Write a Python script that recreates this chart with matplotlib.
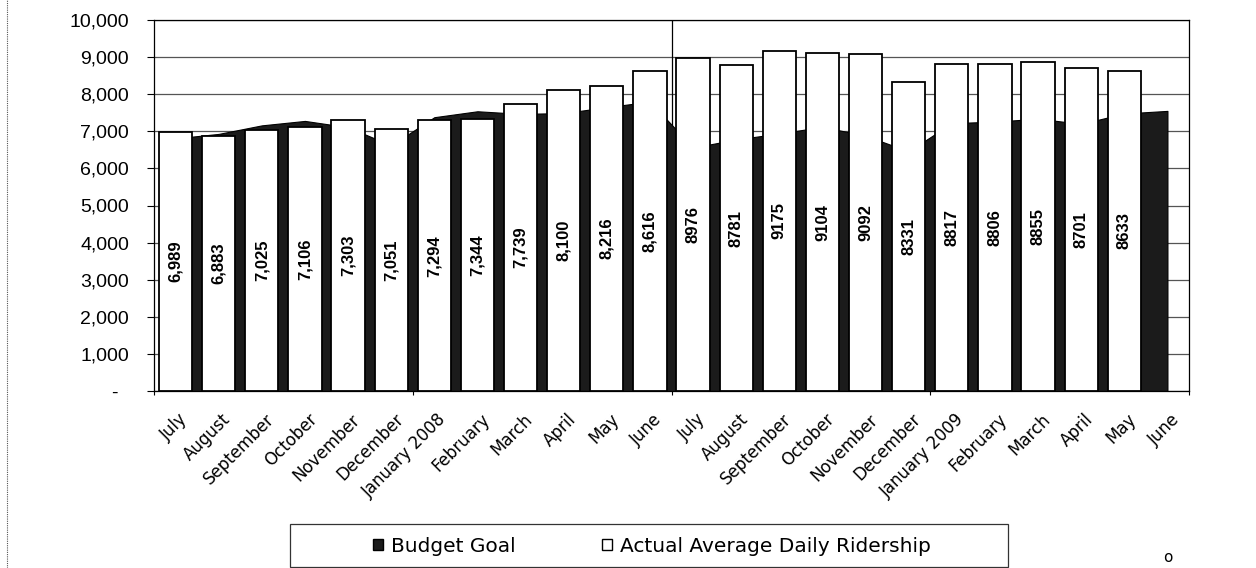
import matplotlib
matplotlib.use("Agg")
import matplotlib.pyplot as plt
import matplotlib.transforms as mtransforms
from matplotlib import font_manager
from matplotlib.patches import Patch, Rectangle
from matplotlib.ticker import FixedLocator, FuncFormatter

# Months of two fiscal years (July 2007 - June 2009)
months = ["July", "August", "September", "October", "November", "December",
          "January 2008", "February", "March", "April", "May", "June",
          "July", "August", "September", "October", "November", "December",
          "January 2009", "February", "March", "April", "May", "June"]

# Actual average daily ridership (June 2009 not yet reported)
actual = [6989, 6883, 7025, 7106, 7303, 7051, 7294, 7344, 7739, 8100, 8216, 8616,
          8976, 8781, 9175, 9104, 9092, 8331, 8817, 8806, 8855, 8701, 8633, None]

# Monthly budget goal
budget = [6810, 6930, 7160, 7280, 7110, 6620, 7380, 7540, 7470, 7490, 7650, 7800,
          6560, 6780, 6940, 7120, 6880, 6460, 7220, 7260, 7340, 7200, 7480, 7550]

y_ticks = list(range(0, 10001, 1000))

available = {f.name for f in font_manager.fontManager.ttflist}
narrow = "Liberation Sans Narrow" if "Liberation Sans Narrow" in available else "Liberation Sans"
label_size = 14 if narrow == "Liberation Sans Narrow" else 12

W, H = 1256, 568
fig = plt.figure(figsize=(W / 100, H / 100), dpi=100)
ax = fig.add_axes([154 / W, 1 - 391 / H, (1189 - 154) / W, (391 - 20) / H])

x = list(range(len(months)))

# Budget goal as a filled area behind the bars
ax.fill_between(x, 0, budget, color="#1b1b1b", linewidth=0.8, edgecolor="#000000", zorder=2)

# Actual ridership bars
for i, v in enumerate(actual):
    if v is None:
        continue
    ax.bar(i, v, width=0.77, facecolor="white", edgecolor="black", linewidth=1.3, zorder=3)
    txt = f"{v:,}" if i < 12 else f"{v}"
    ax.text(i, v / 2, txt, rotation=90, ha="center", va="center",
            fontsize=label_size, family=narrow, weight="bold", color="black", zorder=4)

# Fiscal-year divider
ax.axvline(11.5, color="black", linewidth=0.9, zorder=1)

ax.set_xlim(-0.5, len(months) - 0.5)
ax.set_ylim(0, 10000)

# Horizontal gridlines
ax.yaxis.set_major_locator(FixedLocator(y_ticks))
ax.grid(axis="y", color="#555555", linewidth=0.9, zorder=0)
ax.set_axisbelow(True)

def yfmt(v, pos):
    return "-  " if v == 0 else f"{int(v):,}"

ax.yaxis.set_major_formatter(FuncFormatter(yfmt))
ax.tick_params(axis="y", direction="out", length=5, width=0.8, pad=13,
               labelsize=14)
for lab in ax.get_yticklabels():
    lab.set_family("Liberation Sans")

# Category labels, tick marks every six months
ax.set_xticks(x)
ax.set_xticklabels(months)
ax.tick_params(axis="x", which="major", length=0, pad=14, labelsize=12)
ax.set_xticks([i - 0.5 for i in range(0, len(months) + 1, 6)], minor=True)
ax.tick_params(axis="x", which="minor", direction="out", length=3, width=0.8)
shift = mtransforms.ScaledTranslation(3 / 100, 0, fig.dpi_scale_trans)
for lab in ax.get_xticklabels():
    lab.set_rotation(45)
    lab.set_ha("right")
    lab.set_va("top")
    lab.set_rotation_mode("anchor")
    lab.set_family("DejaVu Sans")
    lab.set_transform(lab.get_transform() + shift)

for s in ax.spines.values():
    s.set_color("black")
    s.set_linewidth(0.9)

# Legend with its own frame
fig.patches.append(Rectangle((290 / W, 1 - 567 / H), (1008 - 290) / W, (567 - 524) / H,
                             transform=fig.transFigure, facecolor="white",
                             edgecolor="#333333", linewidth=0.9))
handles = [Patch(facecolor="#1b1b1b", edgecolor="black", label="Budget Goal"),
           Patch(facecolor="white", edgecolor="black", label="Actual Average Daily Ridership")]
fig.legend(handles=handles, loc="center", bbox_to_anchor=(652 / W, 1 - 546 / H),
           ncol=2, frameon=False, handlelength=0.5, handleheight=0.5,
           handletextpad=0.4, columnspacing=4.3, prop={"family": "DejaVu Sans", "size": 14.5})

# Page margin line and page mark
fig.add_artist(plt.Line2D([7 / W, 7 / W], [0, 1], transform=fig.transFigure,
                          color="#555555", linewidth=0.8, linestyle=(0, (1, 1))))
fig.text(1168 / W, 1 - 558 / H, "o", ha="center", va="center", fontsize=11,
         family="DejaVu Sans")

fig.savefig("out.png", dpi=100)
